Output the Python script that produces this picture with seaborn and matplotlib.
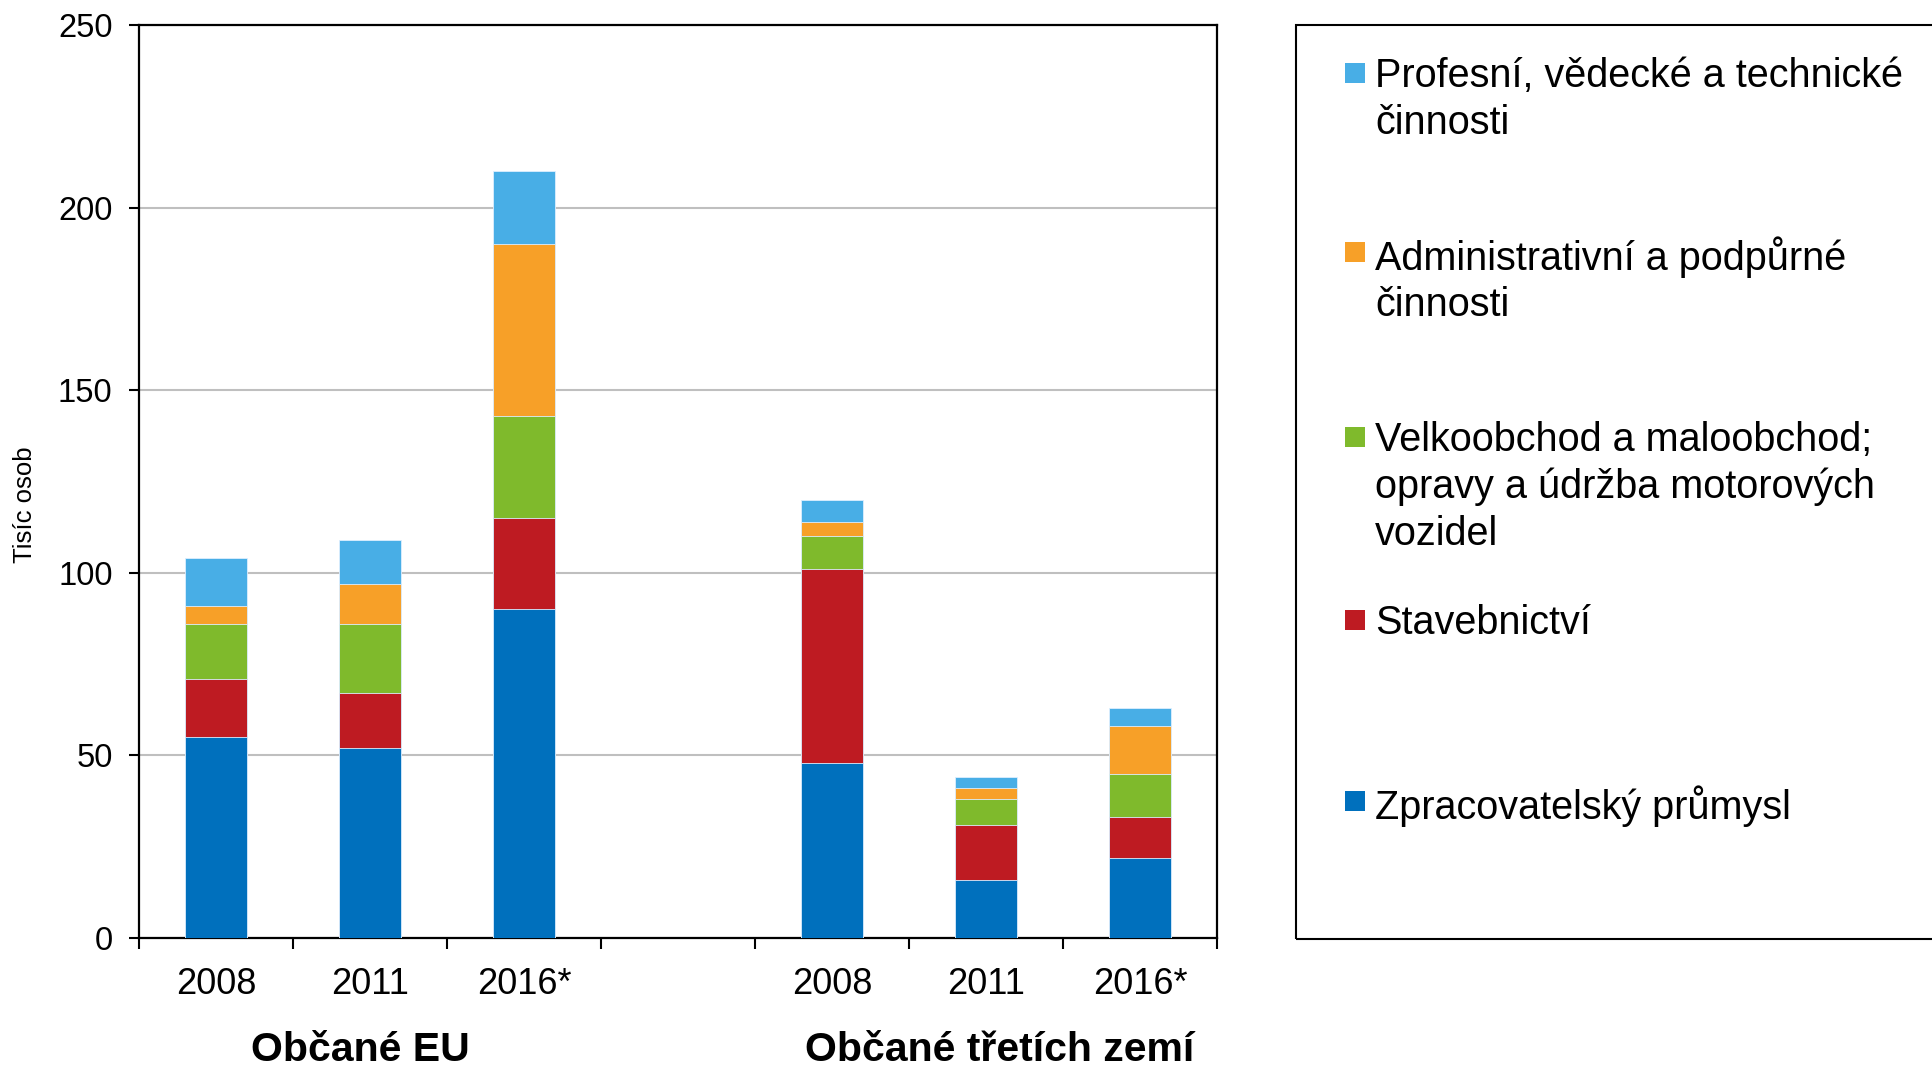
import numpy as np
import pandas as pd
import matplotlib
matplotlib.use("Agg")
import matplotlib.pyplot as plt
import seaborn as sns
from matplotlib.patches import Rectangle

# ---------------- data ----------------
slot_keys = ["EU 2008", "EU 2011", "EU 2016*", "gap", "TZ 2008", "TZ 2011", "TZ 2016*"]
slot_labels = ["2008", "2011", "2016*", "", "2008", "2011", "2016*"]
bar_keys = ["EU 2008", "EU 2011", "EU 2016*", "TZ 2008", "TZ 2011", "TZ 2016*"]
group_labels = ["Občané EU", "Občané třetích zemí"]

manufacturing = [55, 52, 90, 48, 16, 22]
construction = [16, 15, 25, 53, 15, 11]
trade = [15, 19, 28, 9, 7, 12]
admin = [5, 11, 47, 4, 3, 13]
professional = [13, 12, 20, 6, 3, 5]

series_names = [
    "Zpracovatelský průmysl",
    "Stavebnictví",
    "Velkoobchod a maloobchod;\nopravy a údržba motorových\nvozidel",
    "Administrativní a podpůrné\nčinnosti",
    "Profesní, vědecké a technické\nčinnosti",
]
series_colors = ["#0070BD", "#BE1B22", "#7FBA2C", "#F7A028", "#48AEE6"]
y_label = "Tisíc osob"

# ---------------- style ----------------
sns.set_style("white")
plt.rcParams["font.family"] = ["Liberation Sans", "DejaVu Sans"]
plt.rcParams["text.color"] = "black"
plt.rcParams["xtick.color"] = "black"
plt.rcParams["ytick.color"] = "black"

W, H = 1932, 1071
fig = plt.figure(figsize=(W / 100, H / 100), dpi=100)
ax = fig.add_axes([139 / W, 1 - 938 / H, (1217 - 139) / W, (938 - 25) / H])

df = pd.DataFrame({"key": bar_keys})
series = [manufacturing, construction, trade, admin, professional]
cum = np.cumsum(np.array(series), axis=0)
for i in range(len(series)):
    df[f"cum{i}"] = cum[i]

# draw from the tallest cumulative layer down so lower layers overlay
for i in reversed(range(len(series))):
    sns.barplot(data=df, x="key", y=f"cum{i}", order=slot_keys, color=series_colors[i],
                saturation=1, width=0.4, errorbar=None, ax=ax,
                edgecolor="#DDEEFF", linewidth=0.6, zorder=3)

ax.set_xlim(-0.5, 6.5)
ax.set_ylim(0, 250)
ax.set_yticks(np.arange(0, 251, 50))
ax.set_xticks(np.arange(-0.5, 7, 1))
ax.set_xticklabels([""] * 8)
ax.set_xticks(np.arange(7), labels=slot_labels, minor=True)
ax.tick_params(axis="x", which="major", direction="out", length=8, width=1.5, color="black", bottom=True)
ax.tick_params(axis="x", which="minor", length=0, pad=21, labelsize=26, labelcolor="black")
ax.tick_params(axis="y", which="major", direction="out", length=7, width=1.5, color="black",
               left=True, pad=12, labelsize=23.5, labelcolor="black")
ax.set_xlabel("")
ax.set_ylabel("")
ax.yaxis.grid(True, color="#BFBFBF", linewidth=1.5)
ax.xaxis.grid(False)
ax.set_axisbelow(True)
for s in ax.spines.values():
    s.set_visible(True)
    s.set_color("black")
    s.set_linewidth(1.6)

# y label
fig.text(25 / W, 1 - 505 / H, y_label, rotation=90, ha="center", va="center", fontsize=18.5)

# group labels
fig.text(360 / W, 1 - 1061 / H, group_labels[0], ha="center", va="baseline", fontsize=29.5, fontweight="bold")
fig.text(1000 / W, 1 - 1061 / H, group_labels[1], ha="center", va="baseline", fontsize=29.5, fontweight="bold")

# legend box (manual, entries evenly spaced as in reference)
fig.patches.append(Rectangle((1296 / W, 1 - 939 / H), 0.4, (939 - 25) / H, transform=fig.transFigure,
                             fill=False, edgecolor="black", linewidth=1.5, clip_on=False))
entry_y = [73, 252, 437, 620, 801]
order = [4, 3, 2, 1, 0]
for yc, idx in zip(entry_y, order):
    sq = 20
    fig.patches.append(Rectangle(((1355 - sq / 2) / W, 1 - (yc + sq / 2) / H), sq / W, sq / H,
                                 transform=fig.transFigure, facecolor=series_colors[idx],
                                 edgecolor="none"))
    fig.text(1375 / W, 1 - (yc - 16) / H, series_names[idx], ha="left", va="top",
             fontsize=28.5, linespacing=1.29)

fig.savefig("out.png", dpi=100)
